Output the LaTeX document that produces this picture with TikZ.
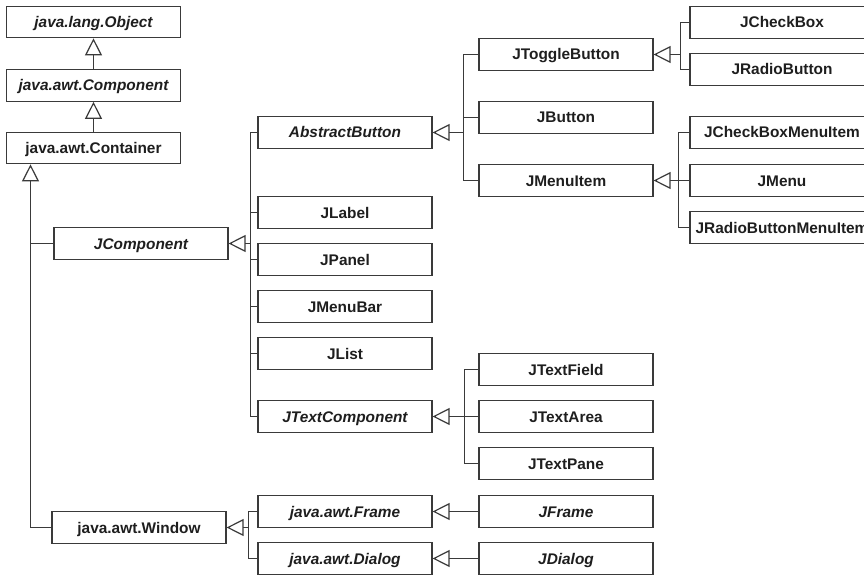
\documentclass[tikz,border=0pt]{standalone}
\usepackage{fontspec}
\setmainfont{Liberation Sans}
\usetikzlibrary{arrows.meta}
\definecolor{edge}{HTML}{3A3A3A}
\definecolor{ink}{HTML}{1E1E1E}
\begin{document}
\begin{tikzpicture}[x=1pt,y=-1pt,
  cls/.style={draw=edge, line width=1.2pt, rectangle, minimum width=174pt,
    minimum height=31.5pt, inner sep=0pt, text height=11pt, text depth=0pt,
    font=\fontsize{15.4}{18}\selectfont\bfseries, text=ink},
  abs/.style={cls, font=\fontsize{15.4}{18}\selectfont\bfseries\itshape},
  wide/.style={minimum width=184pt},
  link/.style={draw=edge, line width=1.2pt},
  inh/.style={link, -{Triangle[open, length=17pt, width=17pt]}}]
\useasboundingbox (0,0) rectangle (864,575);
\clip (0,0) rectangle (864,575);

% root chain
\node[abs] (object)    at (93.5,22)   {java.lang.Object};
\node[abs] (component) at (93.5,85.5) {java.awt.Component};
\node[cls] (container) at (93.5,148)  {java.awt.Container};
\node[abs] (jcomponent) at (141,243.5) {JComponent};
\node[cls] (window)     at (139,527.5) {java.awt.Window};

% second column
\node[abs] (abstractbutton) at (345,132.5) {AbstractButton};
\node[cls] (jlabel)         at (345,212.5) {JLabel};
\node[cls] (jpanel)         at (345,259.5) {JPanel};
\node[cls] (jmenubar)       at (345,306.5) {JMenuBar};
\node[cls] (jlist)          at (345,353.5) {JList};
\node[abs] (jtextcomponent) at (345,416.5) {JTextComponent};
\node[abs] (frame)          at (345,511.5) {java.awt.Frame};
\node[abs] (dialog)         at (345,558.5) {java.awt.Dialog};

% third column
\node[cls] (jtogglebutton) at (566,54.5)  {JToggleButton};
\node[cls] (jbutton)       at (566,117.5) {JButton};
\node[cls] (jmenuitem)     at (566,180.5) {JMenuItem};
\node[cls] (jtextfield)    at (566,369.5) {JTextField};
\node[cls] (jtextarea)     at (566,416.5) {JTextArea};
\node[cls] (jtextpane)     at (566,463.5) {JTextPane};
\node[abs] (jframe)        at (566,511.5) {JFrame};
\node[abs] (jdialog)       at (566,558.5) {JDialog};

% fourth column (runs past the right edge)
\node[cls,wide] (jcheckbox)            at (782,22.5)  {JCheckBox};
\node[cls,wide] (jradiobutton)         at (782,69.5)  {JRadioButton};
\node[cls,wide] (jcheckboxmenuitem)    at (782,132.5) {JCheckBoxMenuItem};
\node[cls,wide] (jmenu)                at (782,180.5) {JMenu};
\node[cls,wide] (jradiobuttonmenuitem) at (782,227.5) {JRadioButtonMenuItem};

% inheritance arrows
\draw[inh] (component) -- (object);
\draw[inh] (container) -- (component);

% each bus: one path from first to last child, stubs for the middle ones
\coordinate (cbus) at (30.5,180);
\draw[inh] (cbus) -- (cbus |- container.south);
\draw[link] (cbus) |- (window.west);
\draw[link] (jcomponent.west) -- (jcomponent.west -| cbus);

\coordinate (jcbus) at (250.5,243.5);
\draw[inh] (jcbus) -- (jcomponent.east);
\draw[link] (abstractbutton.west) -| (jcbus) |- (jtextcomponent.west);
\foreach \c in {jlabel,jpanel,jmenubar,jlist}
  \draw[link] (\c.west) -- (\c.west -| jcbus);

\coordinate (abbus) at (463.5,132.5);
\draw[inh] (abbus) -- (abstractbutton.east);
\draw[link] (jtogglebutton.west) -| (abbus) |- (jmenuitem.west);
\draw[link] (jbutton.west) -- (jbutton.west -| abbus);

\coordinate (tbbus) at (680.5,54.5);
\draw[inh] (tbbus) -- (jtogglebutton.east);
\draw[link] (jcheckbox.west) -| (tbbus) |- (jradiobutton.west);

\coordinate (mibus) at (678.5,180.5);
\draw[inh] (mibus) -- (jmenuitem.east);
\draw[link] (jcheckboxmenuitem.west) -| (mibus) |- (jradiobuttonmenuitem.west);
\draw[link] (jmenu.west) -- (jmenu.west -| mibus);

\coordinate (tcbus) at (464.5,416.5);
\draw[inh] (tcbus) -- (jtextcomponent.east);
\draw[link] (jtextfield.west) -| (tcbus) |- (jtextpane.west);
\draw[link] (jtextarea.west) -- (jtextarea.west -| tcbus);

\coordinate (wbus) at (248.5,527.5);
\draw[inh] (wbus) -- (window.east);
\draw[link] (frame.west) -| (wbus) |- (dialog.west);

\draw[inh] (jframe) -- (frame);
\draw[inh] (jdialog) -- (dialog);
\end{tikzpicture}
\end{document}
